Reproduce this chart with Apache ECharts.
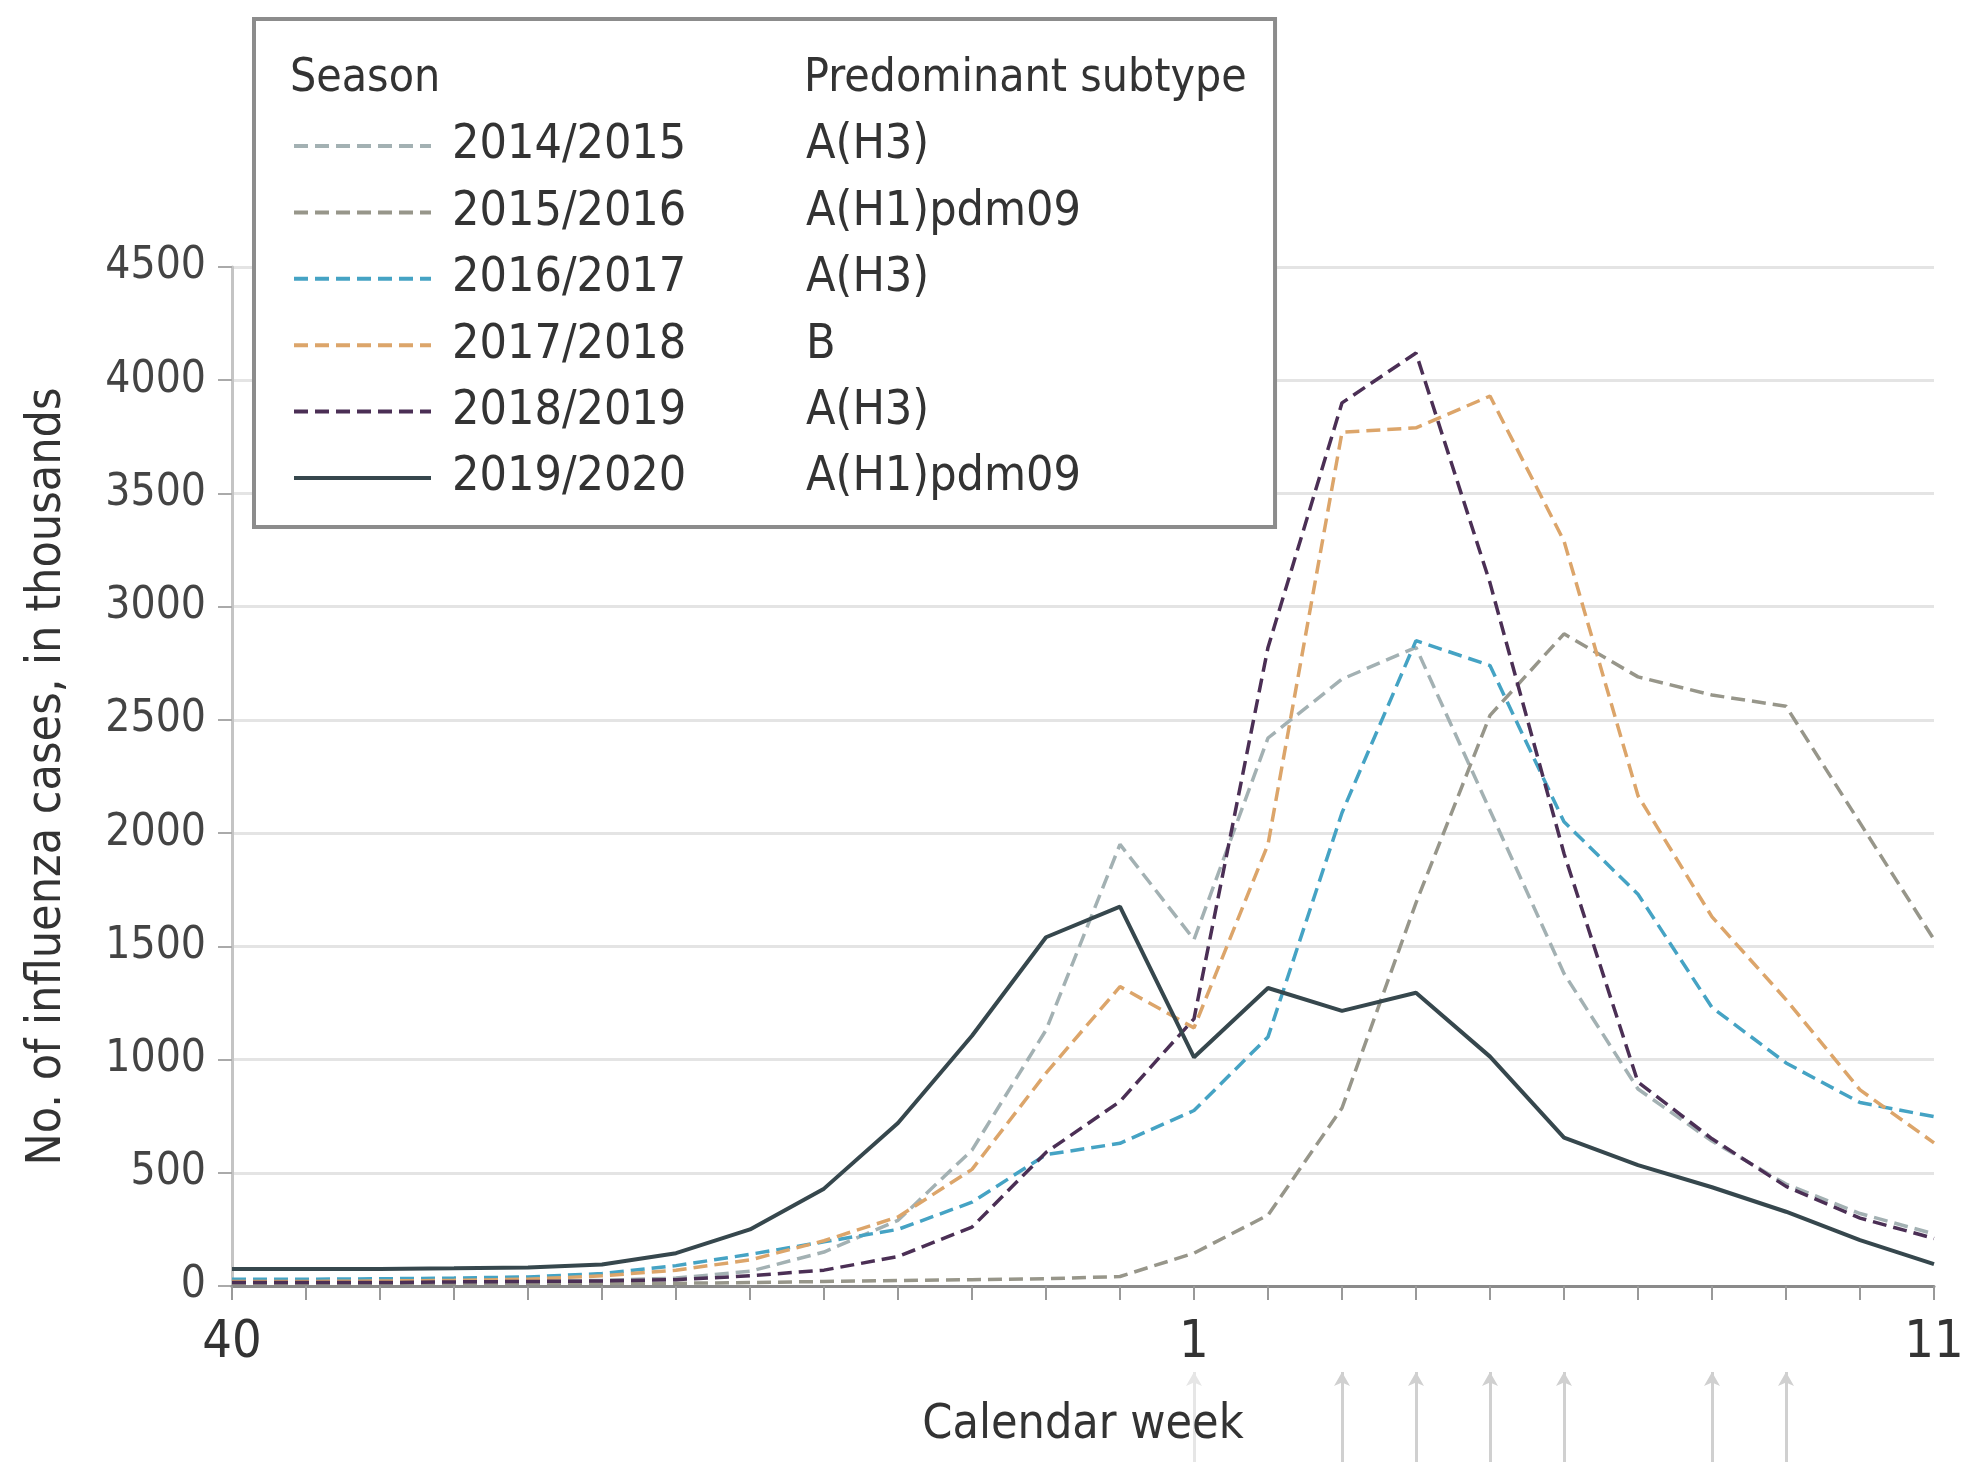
<!DOCTYPE html>
<html><head><meta charset="utf-8">
<script src="https://cdn.jsdelivr.net/npm/echarts@6/dist/echarts.min.js"></script>
<style>html,body{margin:0;padding:0;background:#fff}#c{width:1963px;height:1462px}</style>
</head><body><div id="c"></div>
<script>
// ---- data ----
const weeks = ['40','41','42','43','44','45','46','47','48','49','50','51','52','1','2','3','4','5','6','7','8','9','10','11'];
const labelWeeks = ['40','1','11'];
const seasons = ['2014/2015','2015/2016','2016/2017','2017/2018','2018/2019','2019/2020'];
const subtypes = ['A(H3)','A(H1)pdm09','A(H3)','B','A(H3)','A(H1)pdm09'];
const cases1415 = [15,15,16,18,20,25,35,65,150,290,600,1130,1950,1530,2420,2680,2820,2100,1380,870,640,450,320,230];
const cases1516 = [5,5,6,6,8,10,12,15,20,24,28,32,42,145,313,786,1692,2520,2880,2690,2610,2560,2045,1530];
const cases1617 = [30,30,32,35,40,55,90,140,195,250,370,580,630,775,1100,2090,2850,2740,2050,1730,1230,985,810,748];
const cases1718 = [20,20,22,25,30,45,70,115,200,305,515,940,1322,1140,1950,3770,3790,3930,3290,2165,1630,1265,866,632];
const cases1819 = [15,15,15,18,20,22,28,45,70,130,260,590,815,1180,2820,3900,4120,3105,1910,900,650,440,300,210];
const cases1920 = [75,75,75,78,82,95,145,250,430,720,1105,1540,1675,1010,1316,1215,1295,1013,655,534,436,328,203,97];
const arrowWeeks = ['1','3','4','5','6','8','9'];

// ---- style ----
const FONT = "'DejaVu Sans Condensed', 'DejaVu Sans', sans-serif";
const allCases = [cases1415, cases1516, cases1617, cases1718, cases1819, cases1920];
const colors = ['#a3b1b3','#97968a','#45a3c4','#dca56a','#4b2f55','#36474d'];
const lineTypes = [[14,7],[14,7],[14,7],[14,7],[14,7],'solid'];
const lineWidths = [3.5,3.5,3.5,3.5,3.5,4];

const series = seasons.map((s, k) => ({
  name: s, type: 'line', data: allCases[k], xAxisIndex: 0, yAxisIndex: 0,
  symbol: 'none', smooth: false, z: 3 + k,
  lineStyle: { color: colors[k], width: lineWidths[k], type: lineTypes[k] },
  itemStyle: { color: colors[k] }
}));
series.push({
  name: 'arrows', type: 'line', xAxisIndex: 1, yAxisIndex: 1,
  data: weeks.map(() => null), symbol: 'none', silent: true, z: 1,
  markLine: {
    silent: true, symbol: ['none', 'arrow'], symbolSize: [12, 14],
    label: { show: false }, animation: false,
    lineStyle: { color: '#d0d0d0', width: 3, type: 'solid' },
    data: arrowWeeks.map(w => ({ xAxis: w, lineStyle: { color: w === '1' ? '#e6e6e6' : '#d0d0d0' } }))
  }
});

const chart = echarts.init(document.getElementById('c'), null, { renderer: 'canvas' });
chart.setOption({
  animation: false,
  backgroundColor: '#ffffff',
  grid: [
    { left: 232, right: 29, top: 267, bottom: 176, outerBoundsMode: 'none' },
    { left: 232, right: 29, top: 1372, bottom: 0, outerBoundsMode: 'none' }
  ],
  title: [
    { text: 'Season', left: 290, top: 56, padding: 0, z: 10,
      textStyle: { fontFamily: FONT, fontSize: 46, fontWeight: 'normal', color: '#333' } },
    { text: 'Predominant subtype', left: 804, top: 56, padding: 0, z: 10,
      textStyle: { fontFamily: FONT, fontSize: 46, fontWeight: 'normal', color: '#333' } }
  ],
  legend: {
    data: seasons, orient: 'vertical', left: 254, top: 19,
    padding: [103, 194, 25, 38],
    itemWidth: 137, itemHeight: 50, itemGap: 18.4,
    backgroundColor: '#ffffff', borderColor: '#8c8c8c', borderWidth: 4,
    selectedMode: false,
    itemStyle: { color: 'rgba(0,0,0,0)', borderWidth: 0, opacity: 0 },
    lineStyle: { width: 4 },
    formatter: name => `{g| }{s|${name}}{t|${subtypes[seasons.indexOf(name)]}}`,
    textStyle: {
      fontFamily: FONT, fontSize: 48, color: '#333',
      rich: {
        g: { width: 16, fontSize: 48, fontFamily: FONT },
        s: { width: 354, fontSize: 48, fontFamily: FONT, color: '#333' },
        t: { fontSize: 48, fontFamily: FONT, color: '#333' }
      }
    }
  },
  xAxis: [
    { type: 'category', data: weeks, boundaryGap: false, gridIndex: 0, z: 5,
      name: 'Calendar week', nameLocation: 'middle', nameGap: 116,
      nameTextStyle: { fontFamily: FONT, fontSize: 48, color: '#333' },
      axisLine: { show: true, lineStyle: { color: '#8a8a8a', width: 3 } },
      axisTick: { show: true, interval: 0, length: 14, lineStyle: { color: '#999', width: 2 } },
      axisLabel: { interval: (i, v) => labelWeeks.includes(v), margin: 31,
        fontFamily: FONT, fontSize: 52, color: '#333' },
      splitLine: { show: false } },
    { type: 'category', data: weeks, boundaryGap: false, gridIndex: 1, show: false }
  ],
  yAxis: [
    { type: 'value', min: 0, max: 4500, interval: 500, gridIndex: 0,
      name: 'No. of influenza cases, in thousands', nameLocation: 'middle', nameGap: 160,
      nameTextStyle: { fontFamily: FONT, fontSize: 48, color: '#333' },
      axisLine: { show: true, lineStyle: { color: '#c4c4c4', width: 3 } },
      axisTick: { show: true, length: 14, lineStyle: { color: '#aaa', width: 2 } },
      axisLabel: { margin: 26, fontFamily: FONT, fontSize: 44, color: '#444',
        formatter: v => String(v) },
      splitLine: { show: true, lineStyle: { color: '#e4e4e4', width: 3 } } },
    { type: 'value', gridIndex: 1, min: 0, max: 1, show: false }
  ],
  series: series
});
</script></body></html>
